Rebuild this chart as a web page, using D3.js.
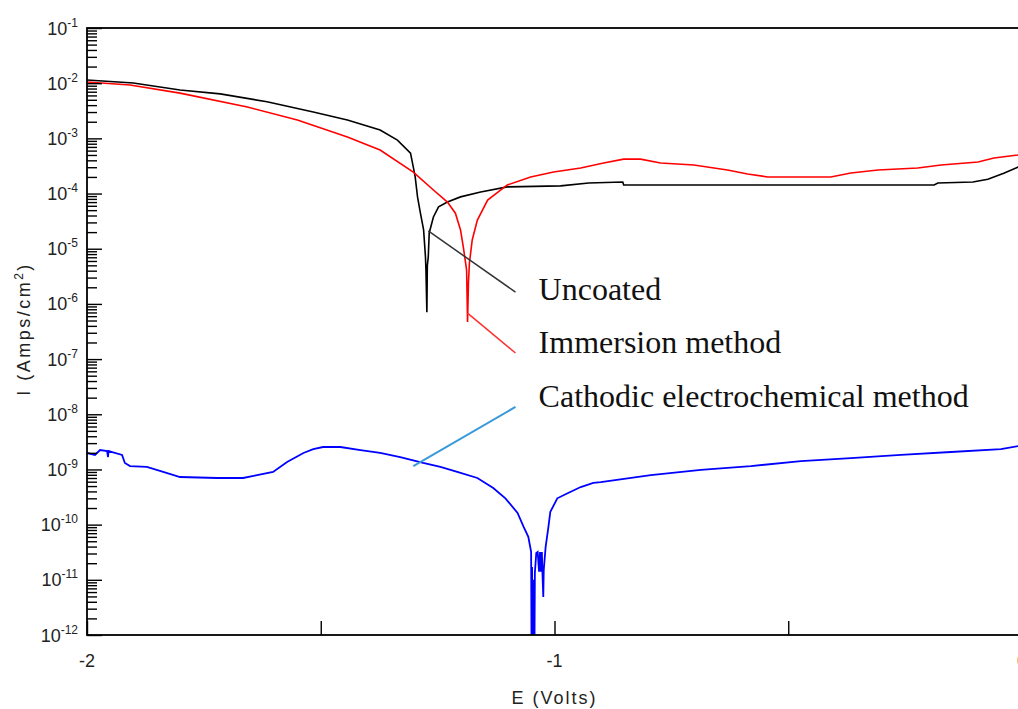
<!DOCTYPE html>
<html>
<head>
<meta charset="utf-8">
<script src="https://cdn.jsdelivr.net/npm/d3@7"></script>
<style>
  html, body { margin: 0; padding: 0; background: #fff; overflow: hidden; }
  svg { display: block; }
</style>
</head>
<body>
<div id="chart"></div>
<script>
// ---------------- DATA ----------------
// Potential E (V) vs current density I (A/cm^2)
const uncoated = [
  [-2.000, 1.14e-2], [-1.901, 1.01e-2], [-1.801, 7.5e-3], [-1.715, 6.4e-3],
  [-1.615, 4.6e-3], [-1.516, 3.0e-3], [-1.443, 2.15e-3], [-1.373, 1.42e-3],
  [-1.336, 9.3e-4], [-1.308, 5.4e-4], [-1.302, 3.0e-4], [-1.298, 2.0e-4],
  [-1.293, 8.7e-5], [-1.287, 4.5e-5], [-1.280, 2.2e-5], [-1.276, 7.1e-6],
  [-1.275, 4.1e-6], [-1.273, 7.1e-7], [-1.272, 5.0e-6], [-1.270, 7.1e-6],
  [-1.268, 1.93e-5], [-1.259, 3.76e-5], [-1.248, 5.75e-5], [-1.229, 7.0e-5],
  [-1.201, 8.7e-5], [-1.158, 1.07e-4], [-1.101, 1.32e-4], [-0.987, 1.38e-4],
  [-0.927, 1.55e-4], [-0.854, 1.62e-4], [-0.852, 1.43e-4], [-0.500, 1.43e-4],
  [-0.188, 1.43e-4], [-0.180, 1.55e-4], [-0.105, 1.62e-4], [-0.073, 1.82e-4],
  [-0.039, 2.34e-4], [-0.009, 3.0e-4], [0.000, 3.5e-4]
];
const immersion = [
  [-2.000, 1.05e-2], [-1.908, 9.3e-3], [-1.801, 6.6e-3], [-1.657, 3.7e-3],
  [-1.550, 2.15e-3], [-1.443, 1.06e-3], [-1.373, 6.15e-4], [-1.302, 2.45e-4],
  [-1.259, 1.16e-4], [-1.229, 7.0e-5], [-1.212, 4.4e-5], [-1.201, 2.18e-5],
  [-1.195, 1.07e-5], [-1.188, 4.1e-6], [-1.186, 4.7e-7], [-1.184, 2.5e-6],
  [-1.182, 5.5e-6], [-1.176, 1.44e-5], [-1.165, 3.3e-5], [-1.143, 7.6e-5],
  [-1.101, 1.43e-4], [-1.051, 2.0e-4], [-1.002, 2.45e-4], [-0.944, 2.9e-4],
  [-0.895, 3.57e-4], [-0.852, 4.2e-4], [-0.816, 4.2e-4], [-0.773, 3.57e-4],
  [-0.702, 3.3e-4], [-0.630, 2.67e-4], [-0.587, 2.26e-4], [-0.544, 2.0e-4],
  [-0.409, 2.0e-4], [-0.366, 2.35e-4], [-0.308, 2.67e-4], [-0.223, 2.9e-4],
  [-0.173, 3.3e-4], [-0.094, 3.73e-4], [-0.060, 4.4e-4], [-0.009, 5.0e-4],
  [0.000, 5.3e-4]
];
const cathodic = [
  [-2.000, 1.99e-9], [-1.983, 1.83e-9], [-1.972, 2.25e-9], [-1.957, 2.16e-9],
  [-1.955, 1.68e-9], [-1.954, 2.16e-9], [-1.946, 2.07e-9], [-1.925, 1.83e-9],
  [-1.919, 1.31e-9], [-1.908, 1.15e-9], [-1.872, 1.11e-9], [-1.837, 9.0e-10],
  [-1.801, 7.3e-10], [-1.722, 7.0e-10], [-1.666, 7.0e-10], [-1.636, 7.9e-10],
  [-1.602, 9.0e-10], [-1.572, 1.36e-9], [-1.537, 1.99e-9], [-1.516, 2.34e-9],
  [-1.495, 2.55e-9], [-1.458, 2.55e-9], [-1.415, 2.25e-9], [-1.373, 1.99e-9],
  [-1.330, 1.68e-9], [-1.281, 1.31e-9], [-1.244, 1.11e-9], [-1.208, 9.0e-10],
  [-1.165, 7.0e-10], [-1.131, 4.6e-10], [-1.105, 3.0e-10], [-1.079, 1.63e-10],
  [-1.066, 9.1e-11], [-1.056, 6.0e-11], [-1.050, 3.2e-11], [-1.049, 3e-13],
  [-1.048, 1.7e-11], [-1.047, 3e-13], [-1.046, 3e-12], [-1.045, 3e-13],
  [-1.044, 1.0e-11], [-1.043, 3e-13], [-1.042, 1.33e-11], [-1.039, 3.06e-11],
  [-1.036, 3.2e-11], [-1.033, 1.4e-11], [-1.031, 3.2e-11], [-1.029, 1.4e-11],
  [-1.027, 3.2e-11], [-1.026, 1.5e-11], [-1.024, 4.9e-12], [-1.023, 1.5e-11],
  [-1.019, 3.9e-11], [-1.013, 9.1e-11], [-1.009, 1.7e-10], [-0.994, 3.0e-10],
  [-0.972, 3.7e-10], [-0.944, 4.8e-10], [-0.917, 5.7e-10], [-0.901, 5.9e-10],
  [-0.794, 7.9e-10], [-0.687, 9.8e-10], [-0.580, 1.15e-9], [-0.473, 1.42e-9],
  [-0.366, 1.61e-9], [-0.259, 1.83e-9], [-0.152, 2.07e-9], [-0.045, 2.34e-9],
  [-0.006, 2.66e-9], [0.000, 2.7e-9]
];

const seriesNames = ["Uncoated", "Immersion method", "Cathodic electrochemical method"];
// annotation anchors in data units (E, I)
const leaderFrom = [[-1.270, 2.1e-5], [-1.186, 6.8e-7], [-1.302, 1.15e-9]];
const leaderTo   = [[-1.0835, 1.64e-6], [-1.0835, 1.29e-7], [-1.0835, 1.36e-8]];
const labelAt    = [[-1.034, 1.18e-6], [-1.034, 1.29e-7], [-1.034, 1.36e-8]];

const xTickValues = [-2, -1.5, -1, -0.5, 0];
const xTickLabels = ["-2", "", "-1", "", "0"];
const yExponents = [-1, -2, -3, -4, -5, -6, -7, -8, -9, -10, -11, -12];

// ---------------- DRAW ----------------
const W = 1018, H = 709;
const svg = d3.select("#chart").append("svg").attr("width", W).attr("height", H);
svg.append("rect").attr("width", W).attr("height", H).attr("fill", "#fff");

const x = d3.scaleLinear().domain([-2, 0]).range([87, 1022]);
const y = d3.scaleLog().domain([1e-12, 1e-1]).range([635, 28]);

const colors = ["#000000", "#ff0000", "#0000ff"];
const leaderColors = ["#333333", "#ff3030", "#3a9ad9"];

svg.append("clipPath").attr("id", "plotclip")
  .append("rect").attr("x", x(-2)).attr("y", y(1e-1))
  .attr("width", x(0) - x(-2)).attr("height", y(1e-12) - y(1e-1));

const line = d3.line().x(d => x(d[0])).y(d => y(d[1]));
const gCurves = svg.append("g").attr("clip-path", "url(#plotclip)");
[uncoated, immersion, cathodic].forEach((s, i) => {
  gCurves.append("path").datum(s).attr("d", line)
    .attr("fill", "none").attr("stroke", colors[i])
    .attr("stroke-width", i === 2 ? 1.8 : 1.6).attr("stroke-linejoin", "miter");
});

// frame
svg.append("rect").attr("x", x(-2)).attr("y", y(1e-1))
  .attr("width", x(0) - x(-2)).attr("height", y(1e-12) - y(1e-1))
  .attr("fill", "none").attr("stroke", "#000").attr("stroke-width", 1.8);

// y ticks (inward)
const majors = yExponents.map(e => Math.pow(10, e));
const minors = [];
yExponents.forEach(e => { if (e < -1) for (let k = 2; k <= 9; k++) minors.push(k * Math.pow(10, e)); });

const yMajAxis = d3.axisRight(y).tickValues(majors).tickSize(15).tickFormat("");
const yMinAxis = d3.axisRight(y).tickValues(minors).tickSize(10).tickFormat("");
[yMajAxis, yMinAxis].forEach(ax => {
  const g = svg.append("g").attr("transform", `translate(${x(-2)},0)`).call(ax);
  g.select(".domain").remove();
  g.selectAll("line").attr("stroke", "#000").attr("stroke-width", 1.4);
});

// x ticks (inward)
const xAxis = d3.axisTop(x).tickValues(xTickValues).tickSize(14).tickFormat("");
const gx = svg.append("g").attr("transform", `translate(0,${y(1e-12)})`).call(xAxis);
gx.select(".domain").remove();
gx.selectAll("line").attr("stroke", "#000").attr("stroke-width", 1.4);

// y tick labels
const ylab = svg.append("g").attr("font-family", "Liberation Sans, Arial, sans-serif").attr("fill", "#222");
yExponents.forEach(e => {
  const t = ylab.append("text").attr("x", 78).attr("y", y(Math.pow(10, e)) + 6.5)
    .attr("text-anchor", "end").attr("font-size", 18);
  t.append("tspan").text("10");
  t.append("tspan").attr("font-size", 12).attr("dy", -8).text(String(e));
});

// x tick labels
xTickValues.forEach((v, i) => {
  if (!xTickLabels[i]) return;
  svg.append("text").attr("x", x(v)).attr("y", 667).attr("text-anchor", "middle")
    .attr("font-family", "Liberation Sans, Arial, sans-serif").attr("font-size", 18)
    .attr("fill", "#222").text(xTickLabels[i]);
});

// axis titles
svg.append("text").attr("x", x(-1)).attr("y", 704).attr("text-anchor", "middle")
  .attr("font-family", "Liberation Sans, Arial, sans-serif").attr("font-size", 18)
  .attr("letter-spacing", 2).attr("fill", "#222").text("E (Volts)");

const yt = svg.append("text").attr("transform", "translate(30,329) rotate(-90)")
  .attr("text-anchor", "middle").attr("font-family", "Liberation Sans, Arial, sans-serif")
  .attr("font-size", 18).attr("letter-spacing", 2.5).attr("fill", "#222");
yt.append("tspan").text("I (Amps/cm");
yt.append("tspan").attr("font-size", 12).attr("dy", -7).text("2");
yt.append("tspan").attr("dy", 7).text(")");

// annotations
seriesNames.forEach((name, i) => {
  svg.append("line")
    .attr("x1", x(leaderFrom[i][0])).attr("y1", y(leaderFrom[i][1]))
    .attr("x2", x(leaderTo[i][0])).attr("y2", y(leaderTo[i][1]))
    .attr("stroke", leaderColors[i]).attr("stroke-width", i === 2 ? 2 : 1.5);
  svg.append("text").attr("x", x(labelAt[i][0])).attr("y", y(labelAt[i][1]))
    .attr("font-family", "Liberation Serif, Times New Roman, serif").attr("font-size", 32)
    .attr("fill", "#111").text(name);
});
</script>
</body>
</html>
